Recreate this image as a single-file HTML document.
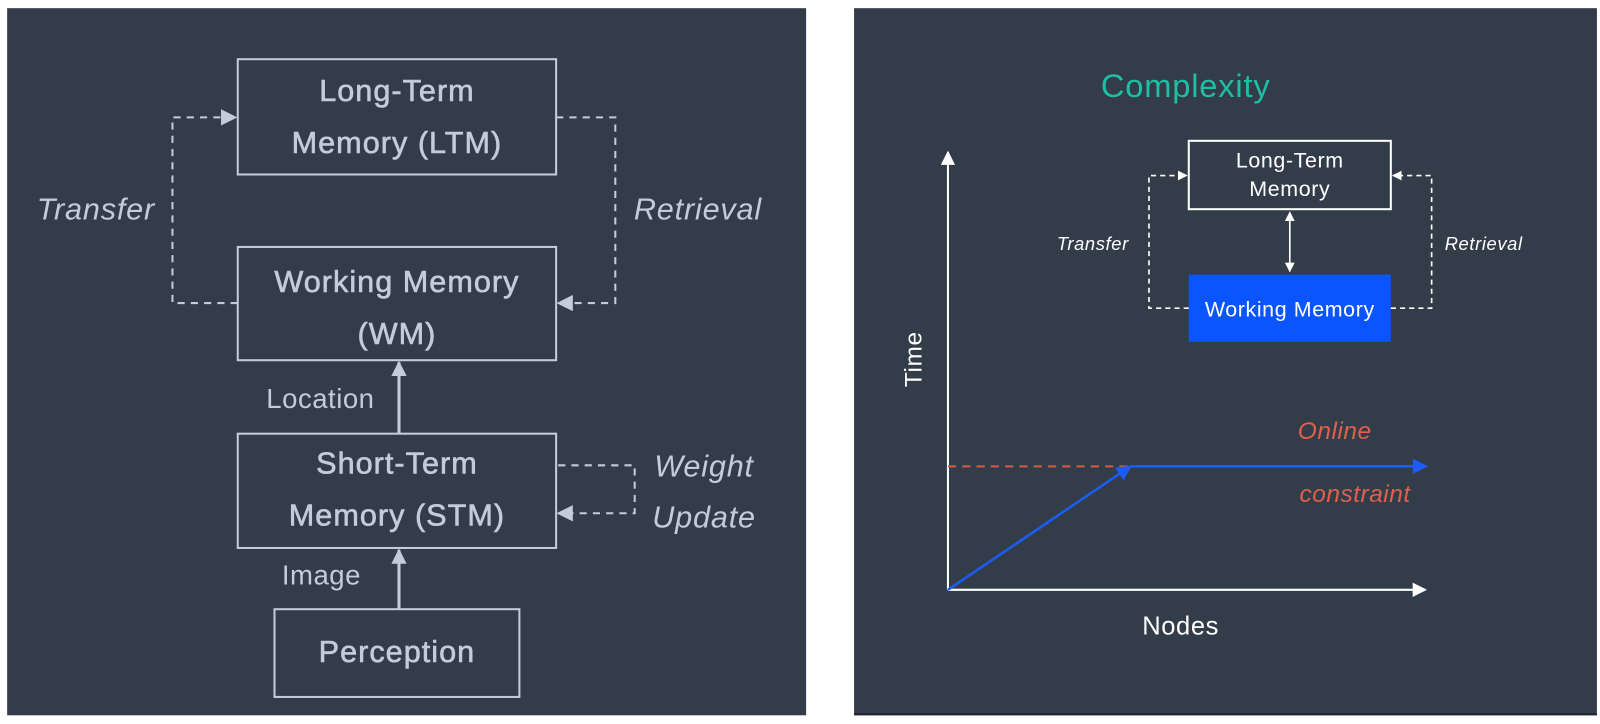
<!DOCTYPE html>
<html><head><meta charset="utf-8"><style>
html,body{margin:0;padding:0;background:#fff;width:1600px;height:724px;overflow:hidden}
svg{display:block}
text{font-family:"Liberation Sans",sans-serif}
</style></head><body>
<svg width="1600" height="724" viewBox="0 0 1568 709.5" xmlns="http://www.w3.org/2000/svg">
<defs>
<marker id="ag" viewBox="0 0 10 10" refX="9" refY="5" markerWidth="8" markerHeight="8" orient="auto-start-reverse" markerUnits="strokeWidth"><path d="M0,0 L10,5 L0,10 z" fill="#c3ccd8"/></marker>
<marker id="ag3" viewBox="0 0 10 10" refX="9" refY="5" markerWidth="5" markerHeight="5" orient="auto-start-reverse" markerUnits="strokeWidth"><path d="M0,0 L10,5 L0,10 z" fill="#c3ccd8"/></marker>
<marker id="aw" viewBox="0 0 10 10" refX="9" refY="5" markerWidth="6" markerHeight="6" orient="auto-start-reverse" markerUnits="strokeWidth"><path d="M0,0 L10,5 L0,10 z" fill="#ffffff"/></marker>
<marker id="aws" viewBox="0 0 10 10" refX="9" refY="5" markerWidth="7" markerHeight="7" orient="auto-start-reverse" markerUnits="strokeWidth"><path d="M0,0 L10,5 L0,10 z" fill="#ffffff"/></marker>
<marker id="ab" viewBox="0 0 10 10" refX="9" refY="5" markerWidth="6" markerHeight="6" orient="auto" markerUnits="strokeWidth"><path d="M0,0 L10,5 L0,10 z" fill="#1b5cf5"/></marker>
</defs>
<rect x="7" y="8" width="783" height="693" fill="#333d4a"/>
<rect x="837" y="8" width="728" height="693" fill="#333d4a"/>
<rect x="837" y="699" width="728" height="2" fill="#1e252d"/>

<g fill="none" stroke="#c3ccd8" stroke-width="2">
<rect x="233" y="58" width="312" height="113"/>
<rect x="233" y="242" width="312" height="111"/>
<rect x="233" y="425" width="312" height="112"/>
<rect x="269" y="597" width="240" height="86"/>
<g stroke-dasharray="7,6">
<path d="M233,297 H169 V115 H231" marker-end="url(#ag)"/>
<path d="M545,115 H603 V297 H547" marker-end="url(#ag)"/>
<path d="M547,456 H622 V503 H547" marker-end="url(#ag)"/>
</g>
<path d="M391,425 V355" stroke-width="3" marker-end="url(#ag3)"/>
<path d="M391,597 V539" stroke-width="3" marker-end="url(#ag3)"/>
</g>
<g fill="#c3ccd8" stroke="#c3ccd8" stroke-width="0.6" font-size="30" letter-spacing="1" text-anchor="middle">
<text x="389" y="99">Long-Term</text>
<text x="389" y="150">Memory (LTM)</text>
<text x="389" y="286">Working Memory</text>
<text x="389" y="337">(WM)</text>
<text x="389" y="464">Short-Term</text>
<text x="389" y="515">Memory (STM)</text>
<text x="389" y="649">Perception</text>
</g>
<g fill="#c3ccd8" text-anchor="middle">
<text x="314" y="400" font-size="27" letter-spacing="0.5">Location</text>
<text x="315" y="573" font-size="27" letter-spacing="0.5">Image</text>
<g font-style="italic" font-size="30" letter-spacing="0.8">
<text x="94" y="215">Transfer</text>
<text x="684" y="215">Retrieval</text>
<text x="690" y="467">Weight</text>
<text x="690" y="517">Update</text>
</g>
</g>

<text x="1162" y="95" fill="#1fbfa3" font-size="32" letter-spacing="0.8" text-anchor="middle">Complexity</text>
<g fill="none" stroke="#ffffff" stroke-width="2">
<path d="M929,578 V149" marker-end="url(#aws)"/>
<path d="M929,578 H1397" marker-end="url(#aws)"/>
<rect x="1165" y="138" width="198" height="67"/>
</g>
<rect x="1165" y="269" width="198" height="66" fill="#0a55ff"/>
<g fill="none" stroke="#ffffff" stroke-width="1.6">
<path d="M1264,208 V266" marker-start="url(#aw)" marker-end="url(#aw)"/>
<g stroke-dasharray="5,4">
<path d="M1165,302 H1126 V172 H1163" marker-end="url(#aw)"/>
<path d="M1363,302 H1403 V172 H1365" marker-end="url(#aw)"/>
</g>
</g>
<g fill="#ffffff" text-anchor="middle" font-size="21" letter-spacing="0.6">
<text x="1264" y="164">Long-Term</text>
<text x="1264" y="192">Memory</text>
<text x="1264" y="310">Working Memory</text>
<text x="1071" y="245" font-size="18" font-style="italic">Transfer</text>
<text x="1454" y="245" font-size="18" font-style="italic">Retrieval</text>
<text x="1157" y="622" font-size="25">Nodes</text>
<text x="0" y="0" font-size="24" transform="translate(903,352) rotate(-90)">Time</text>
</g>
<path d="M929,457 H1106" stroke="#d65a45" stroke-width="2" stroke-dasharray="8,6"/>
<path d="M929,578 L1108,457" stroke="#1b5cf5" stroke-width="2.5" fill="none" marker-end="url(#ab)"/>
<path d="M1108,457 H1398" stroke="#1b5cf5" stroke-width="2.5" fill="none" marker-end="url(#ab)"/>
<g fill="#e0604a" font-style="italic" font-size="24" letter-spacing="0.5" text-anchor="middle">
<text x="1308" y="430">Online</text>
<text x="1328" y="492">constraint</text>
</g>
</svg>
</body></html>
